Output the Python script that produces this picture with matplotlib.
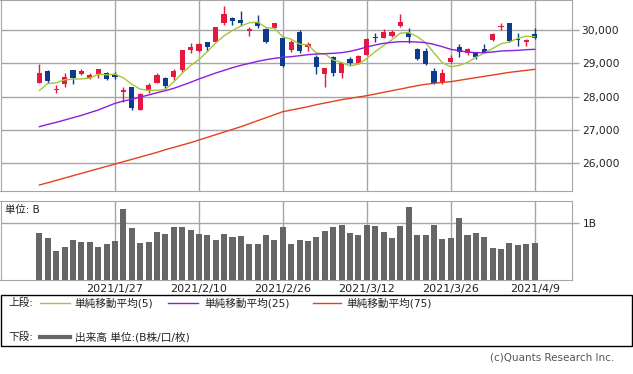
import numpy as np
import matplotlib
matplotlib.use("Agg")
import matplotlib.pyplot as plt
from matplotlib.patches import Rectangle
from matplotlib.lines import Line2D

plt.rcParams['font.family'] = ['DejaVu Sans', 'Noto Sans CJK JP']

# --- data (2021/1/14 .. 2021/4/9, trading days) ---
dates = ['1/14', '1/15', '1/18', '1/19', '1/20', '1/21', '1/22', '1/25', '1/26', '1/27',
         '1/28', '1/29', '2/1', '2/2', '2/3', '2/4', '2/5', '2/8', '2/9', '2/10',
         '2/12', '2/15', '2/16', '2/17', '2/18', '2/19', '2/22', '2/24', '2/25', '2/26',
         '3/1', '3/2', '3/3', '3/4', '3/5', '3/8', '3/9', '3/10', '3/11', '3/12',
         '3/15', '3/16', '3/17', '3/18', '3/19', '3/22', '3/23', '3/24', '3/25', '3/26',
         '3/29', '3/30', '3/31', '4/1', '4/2', '4/5', '4/6', '4/7', '4/8', '4/9']

opens = [28400, 28770, 28200, 28370, 28800, 28690, 28570, 28670, 28700, 28640,
         28140, 28300, 27600, 28170, 28420, 28560, 28580, 28800, 29400, 29370,
         29640, 29650, 30200, 30370, 30300, 29970, 30250, 30020, 30070, 29770,
         29400, 29930, 29480, 29200, 28680, 29180, 28720, 29120, 29000, 29250,
         29800, 29750, 29820, 30120, 29900, 29430, 29370, 28770, 28400, 29050,
         29480, 29320, 29300, 29420, 29700, 30100, 30200, 29730, 29650, 29880]
highs = [28980, 28800, 28350, 28700, 28800, 28820, 28700, 28820, 28730, 28730,
         28300, 28300, 28100, 28400, 28700, 28600, 28820, 29400, 29600, 29600,
         29650, 30100, 30720, 30400, 30570, 30100, 30450, 30050, 30220, 29800,
         29700, 30000, 29650, 29250, 28870, 29220, 29000, 29200, 29250, 29770,
         29900, 30020, 30000, 30480, 30050, 29470, 29450, 28850, 28830, 29250,
         29580, 29470, 29350, 29570, 29900, 30220, 30200, 29900, 29720, 30050]
lows = [28400, 28400, 28100, 28300, 28370, 28640, 28530, 28550, 28500, 28520,
        27850, 27600, 27600, 28100, 28400, 28250, 28500, 28750, 29320, 29350,
        29380, 29650, 30150, 30150, 30120, 29830, 30050, 29620, 30050, 28900,
        29350, 29300, 29380, 28680, 28280, 28620, 28570, 28950, 28980, 29250,
        29650, 29750, 29800, 30100, 29600, 29100, 28950, 28380, 28380, 29000,
        29180, 29250, 29130, 29300, 29680, 30000, 29650, 29520, 29520, 29720]
closes = [28700, 28470, 28230, 28600, 28550, 28760, 28640, 28820, 28520, 28600,
          28200, 27650, 28070, 28350, 28650, 28330, 28770, 29400, 29500, 29570,
          29500, 30100, 30480, 30280, 30220, 30020, 30120, 29650, 30200, 28930,
          29650, 29380, 29570, 28900, 28870, 28720, 29000, 29020, 29220, 29730,
          29750, 29930, 29930, 30230, 29780, 29130, 28970, 28400, 28720, 29150,
          29350, 29420, 29180, 29350, 29870, 30120, 29680, 29700, 29700, 29750]

sma5 = [28189, 28395, 28416, 28510, 28523, 28535, 28557, 28673, 28656, 28678,
        28566, 28373, 28226, 28190, 28192, 28221, 28444, 28703, 28932, 29115,
        29351, 29612, 29828, 29985, 30120, 30219, 30234, 30074, 30050, 29796,
        29725, 29575, 29553, 29305, 29285, 29101, 29025, 28920, 28976, 29147,
        29351, 29530, 29706, 29907, 29922, 29803, 29618, 29316, 29019, 28896,
        28938, 29025, 29180, 29312, 29447, 29588, 29641, 29751, 29815, 29798]
sma25 = [27100, 27170, 27230, 27300, 27370, 27440, 27520, 27600, 27700, 27800,
         27870, 27920, 27990, 28050, 28120, 28180, 28250, 28340, 28430, 28530,
         28620, 28710, 28790, 28870, 28940, 29000, 29060, 29110, 29150, 29180,
         29200, 29230, 29260, 29280, 29290, 29300, 29320, 29360, 29420, 29490,
         29550, 29600, 29630, 29650, 29650, 29640, 29620, 29570, 29500, 29420,
         29380, 29340, 29320, 29320, 29340, 29370, 29380, 29390, 29410, 29420]
sma75 = [25350, 25420, 25490, 25560, 25630, 25700, 25770, 25840, 25910, 25980,
         26050, 26120, 26190, 26260, 26330, 26410, 26480, 26550, 26620, 26700,
         26780, 26860, 26940, 27020, 27100, 27190, 27280, 27370, 27460, 27550,
         27600, 27650, 27700, 27760, 27810, 27860, 27910, 27950, 27990, 28030,
         28080, 28130, 28180, 28230, 28280, 28330, 28370, 28400, 28430, 28450,
         28490, 28530, 28570, 28610, 28650, 28690, 28730, 28760, 28790, 28820]

# volume in billions of shares
volume = [0.83, 0.74, 0.51, 0.58, 0.71, 0.67, 0.67, 0.58, 0.64, 0.69,
          1.25, 0.92, 0.65, 0.67, 0.85, 0.81, 0.94, 0.94, 0.88, 0.81,
          0.79, 0.71, 0.81, 0.76, 0.78, 0.64, 0.64, 0.79, 0.71, 0.94,
          0.64, 0.71, 0.69, 0.76, 0.86, 0.94, 0.97, 0.83, 0.79, 0.97,
          0.95, 0.85, 0.74, 0.95, 1.29, 0.79, 0.79, 0.97, 0.72, 0.74,
          1.09, 0.79, 0.83, 0.76, 0.56, 0.55, 0.65, 0.62, 0.64, 0.65]

label_idx = [9, 19, 29, 39, 49, 59]
price_ticks = [26000, 27000, 28000, 29000, 30000]

UP = '#e8173f'
DOWN = '#0c3b8f'
GRID = '#a6a6a6'
W, H = 633, 374


def fx(px):
    return px / W


def fy(py):
    return 1 - py / H


fig = plt.figure(figsize=(6.33, 3.74), dpi=100)
ax = fig.add_axes([fx(0.5), fy(190.7), fx(571.5), (190.7) / H])
axv = fig.add_axes([fx(0.5), fy(280), fx(571.5), (280 - 201) / H])

x = np.arange(len(closes))
o = np.array(opens)
c = np.array(closes)
colors = [UP if cc >= oo else DOWN for oo, cc in zip(o, c)]

# candles
ax.vlines(x, lows, highs, colors=colors, linewidth=1, zorder=3)
bottom = np.minimum(o, c)
height = np.maximum(np.abs(c - o), 25)
ax.bar(x, height, bottom=bottom, width=0.62, color=colors, linewidth=0, zorder=4)

# moving averages
ax.plot(x, sma5, color='#a4c639', linewidth=1, zorder=5)
ax.plot(x, sma25, color='#8a1ee0', linewidth=1, zorder=5)
ax.plot(x, sma75, color='#e8401c', linewidth=1, zorder=5)

xlim = (-4.64, 63.45)
ax.set_xlim(*xlim)
ax.set_ylim(25180, 30900)
ax.set_xticks(label_idx)
ax.set_xticklabels([])
ax.tick_params(axis='x', length=0)
ax.yaxis.tick_right()
ax.set_yticks(price_ticks)
ax.set_yticklabels([f'{v:,}' for v in price_ticks])
ax.tick_params(axis='y', length=5, width=1, color=GRID, labelsize=7.7,
               labelcolor='#222222', pad=2)
ax.grid(True, color=GRID, linewidth=1)
ax.set_axisbelow(True)
for s in ax.spines.values():
    s.set_color(GRID)

# volume
axv.bar(x, volume, width=0.72, color='#666666', linewidth=0, zorder=3)
axv.set_xlim(*xlim)
axv.set_ylim(0, 1.393)
axv.set_xticks(label_idx)
axv.set_xticklabels(['2021/' + dates[i] for i in label_idx])
axv.tick_params(axis='x', length=0, labelsize=8, labelcolor='#222222', pad=3)
axv.yaxis.tick_right()
axv.set_yticks([1.0])
axv.set_yticklabels(['1B'])
axv.tick_params(axis='y', length=5, width=1, color=GRID, labelsize=7.7,
                labelcolor='#222222', pad=3)
axv.grid(True, color=GRID, linewidth=1)
axv.set_axisbelow(True)
for s in axv.spines.values():
    s.set_color(GRID)
fig.text(fx(5), fy(210), '単位: B', fontsize=7.5, color='#222222',
         ha='left', va='center')

# legend box
fig.add_artist(Rectangle((fx(0.5), fy(346.3)), fx(631.5), 51 / H,
                         transform=fig.transFigure, fill=False,
                         edgecolor='black', linewidth=1))
row1, row2 = fy(303), fy(337)
fig.text(fx(8), row1, '上段:', fontsize=7.7, ha='left', va='center', color='#222222')
fig.text(fx(8), row2, '下段:', fontsize=7.7, ha='left', va='center', color='#222222')
legend_items = [
    (40, 70, 74, '#a4c639', 1, '単純移動平均(5)', row1),
    (168, 198, 204, '#8a1ee0', 1, '単純移動平均(25)', row1),
    (313, 341, 346, '#e8401c', 1, '単純移動平均(75)', row1),
    (40, 70, 75, '#666666', 3, '出来高 単位:(B株/口/枚)', row2),
]
for x0, x1, tx, col, lw, txt, ry in legend_items:
    fig.add_artist(Line2D([fx(x0), fx(x1)], [ry, ry], color=col, linewidth=lw,
                          transform=fig.transFigure))
    fig.text(fx(tx), ry, txt, fontsize=7.7, ha='left', va='center', color='#222222')

fig.text(fx(614), fy(358), '(c)Quants Research Inc.', fontsize=7.5,
         ha='right', va='center', color='#555555')

fig.savefig('out.png', dpi=100)
